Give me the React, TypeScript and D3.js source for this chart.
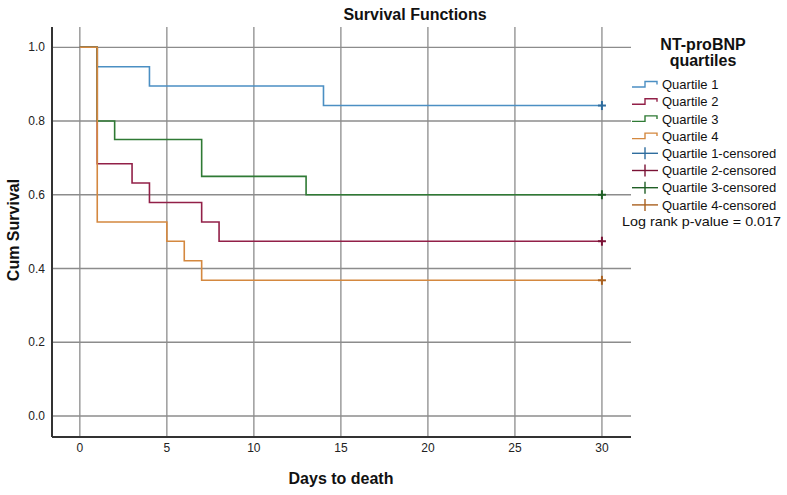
import React from 'react';
import * as d3 from 'd3';

// Kaplan-Meier step data
const q1Days = [0, 1, 4, 14, 30];
const q1Surv = [1, 0.947, 0.895, 0.842, 0.842];
const q2Days = [0, 1, 3, 4, 7, 8, 30];
const q2Surv = [1, 0.684, 0.632, 0.579, 0.526, 0.474, 0.474];
const q3Days = [0, 1, 2, 7, 13, 30];
const q3Surv = [1, 0.8, 0.75, 0.65, 0.6, 0.6];
const q4Days = [0, 1, 5, 6, 7, 30];
const q4Surv = [1, 0.526, 0.474, 0.421, 0.368, 0.368];

const seriesNames = ['Quartile 1', 'Quartile 2', 'Quartile 3', 'Quartile 4'];
const lineColors = ['#4b8fc3', '#922048', '#2f7a34', '#d4883f'];
const censorColors = ['#2f6d9e', '#7a1235', '#1f5f25', '#a9601f'];
const censorDay = 30;

const xTicks = [0, 5, 10, 15, 20, 25, 30];
const yTicks = [0, 0.2, 0.4, 0.6, 0.8, 1.0];

const W = 787;
const H = 495;
const left = 52, right = 631, top = 27, bottom = 437;

const App = () => {
  const x = d3.scaleLinear().domain([-1.6, 31.67]).range([left, right]);
  const y = d3.scaleLinear().domain([-0.057, 1.055]).range([bottom, top]);

  const series = [
    { days: q1Days, surv: q1Surv },
    { days: q2Days, surv: q2Surv },
    { days: q3Days, surv: q3Surv },
    { days: q4Days, surv: q4Surv },
  ];

  const line = d3.line<[number, number]>()
    .x(d => x(d[0]))
    .y(d => y(d[1]))
    .curve(d3.curveStepAfter);

  const font = 'Arial, "Liberation Sans", sans-serif';
  const legendRows = [
    ...seriesNames.map((n, i) => ({ label: n, color: lineColors[i], kind: 'step' })),
    ...seriesNames.map((n, i) => ({ label: n + '-censored', color: censorColors[i], kind: 'cross' })),
  ];
  const rowY = (i: number) => 84.5 + i * 17.2;

  return (
    <svg width={W} height={H} style={{ position: 'absolute', left: 0, top: 0, background: '#fff' }}
      fontFamily={font}>
      <rect width={W} height={H} fill="#fff" />
      <text x={415} y={20} textAnchor="middle" fontSize={16} fontWeight="bold" fill="#111">
        Survival Functions
      </text>

      {/* grid */}
      {xTicks.map(t => (
        <line key={'gx' + t} x1={x(t)} x2={x(t)} y1={top} y2={bottom} stroke="#8c8c8c" strokeWidth={1.3} />
      ))}
      {yTicks.map(t => (
        <line key={'gy' + t} x1={left} x2={right} y1={y(t)} y2={y(t)} stroke="#8c8c8c" strokeWidth={1.3} />
      ))}

      {/* axes */}
      <line x1={left} x2={left} y1={top} y2={bottom} stroke="#333" strokeWidth={2} />
      <line x1={left} x2={right} y1={bottom} y2={bottom} stroke="#333" strokeWidth={2} />

      {xTicks.map(t => (
        <text key={'tx' + t} x={x(t)} y={452} textAnchor="middle" fontSize={12} fill="#222">{t}</text>
      ))}
      {yTicks.map(t => (
        <text key={'ty' + t} x={45} y={y(t)} dy="0.35em" textAnchor="end" fontSize={12} fill="#222">
          {d3.format('.1f')(t)}
        </text>
      ))}

      <text x={341} y={484} textAnchor="middle" fontSize={16} fontWeight="bold" fill="#111">Days to death</text>
      <text transform={`translate(19,230) rotate(-90)`} textAnchor="middle" fontSize={16} fontWeight="bold" fill="#111">
        Cum Survival
      </text>

      {/* survival curves */}
      {series.map((s, i) => (
        <path key={'s' + i}
          d={line(s.days.map((d, j) => [d, s.surv[j]] as [number, number])) || ''}
          fill="none" stroke={lineColors[i]} strokeWidth={1.6} />
      ))}
      {series.map((s, i) => {
        const cx = x(censorDay);
        const cy = y(s.surv[s.surv.length - 1]);
        return (
          <g key={'c' + i} stroke={censorColors[i]} strokeWidth={2}>
            <line x1={cx - 4} x2={cx + 4} y1={cy} y2={cy} />
            <line x1={cx} x2={cx} y1={cy - 4.5} y2={cy + 4.5} />
          </g>
        );
      })}

      {/* legend */}
      <text x={703} y={50} textAnchor="middle" fontSize={16} fontWeight="bold" fill="#111">NT-proBNP</text>
      <text x={703} y={66} textAnchor="middle" fontSize={16} fontWeight="bold" fill="#111">quartiles</text>
      {legendRows.map((r, i) => {
        const cy = rowY(i);
        return (
          <g key={'l' + i}>
            {r.kind === 'step' ? (
              <path d={`M632,${cy + 2.5}H645V${cy - 3}H657V${cy}`} fill="none" stroke={r.color} strokeWidth={1.4} />
            ) : (
              <g stroke={r.color} strokeWidth={1.4}>
                <line x1={632} x2={658} y1={cy} y2={cy} />
                <line x1={645} x2={645} y1={cy - 6} y2={cy + 6} />
              </g>
            )}
            <text x={662} y={cy + 4.6} fontSize={13} fill="#111">{r.label}</text>
          </g>
        );
      })}
      <text x={622} y={rowY(8) + 3.5} fontSize={13} fill="#111" textLength={159} lengthAdjust="spacingAndGlyphs">
        Log rank p-value = 0.017
      </text>
    </svg>
  );
};

export default App;
